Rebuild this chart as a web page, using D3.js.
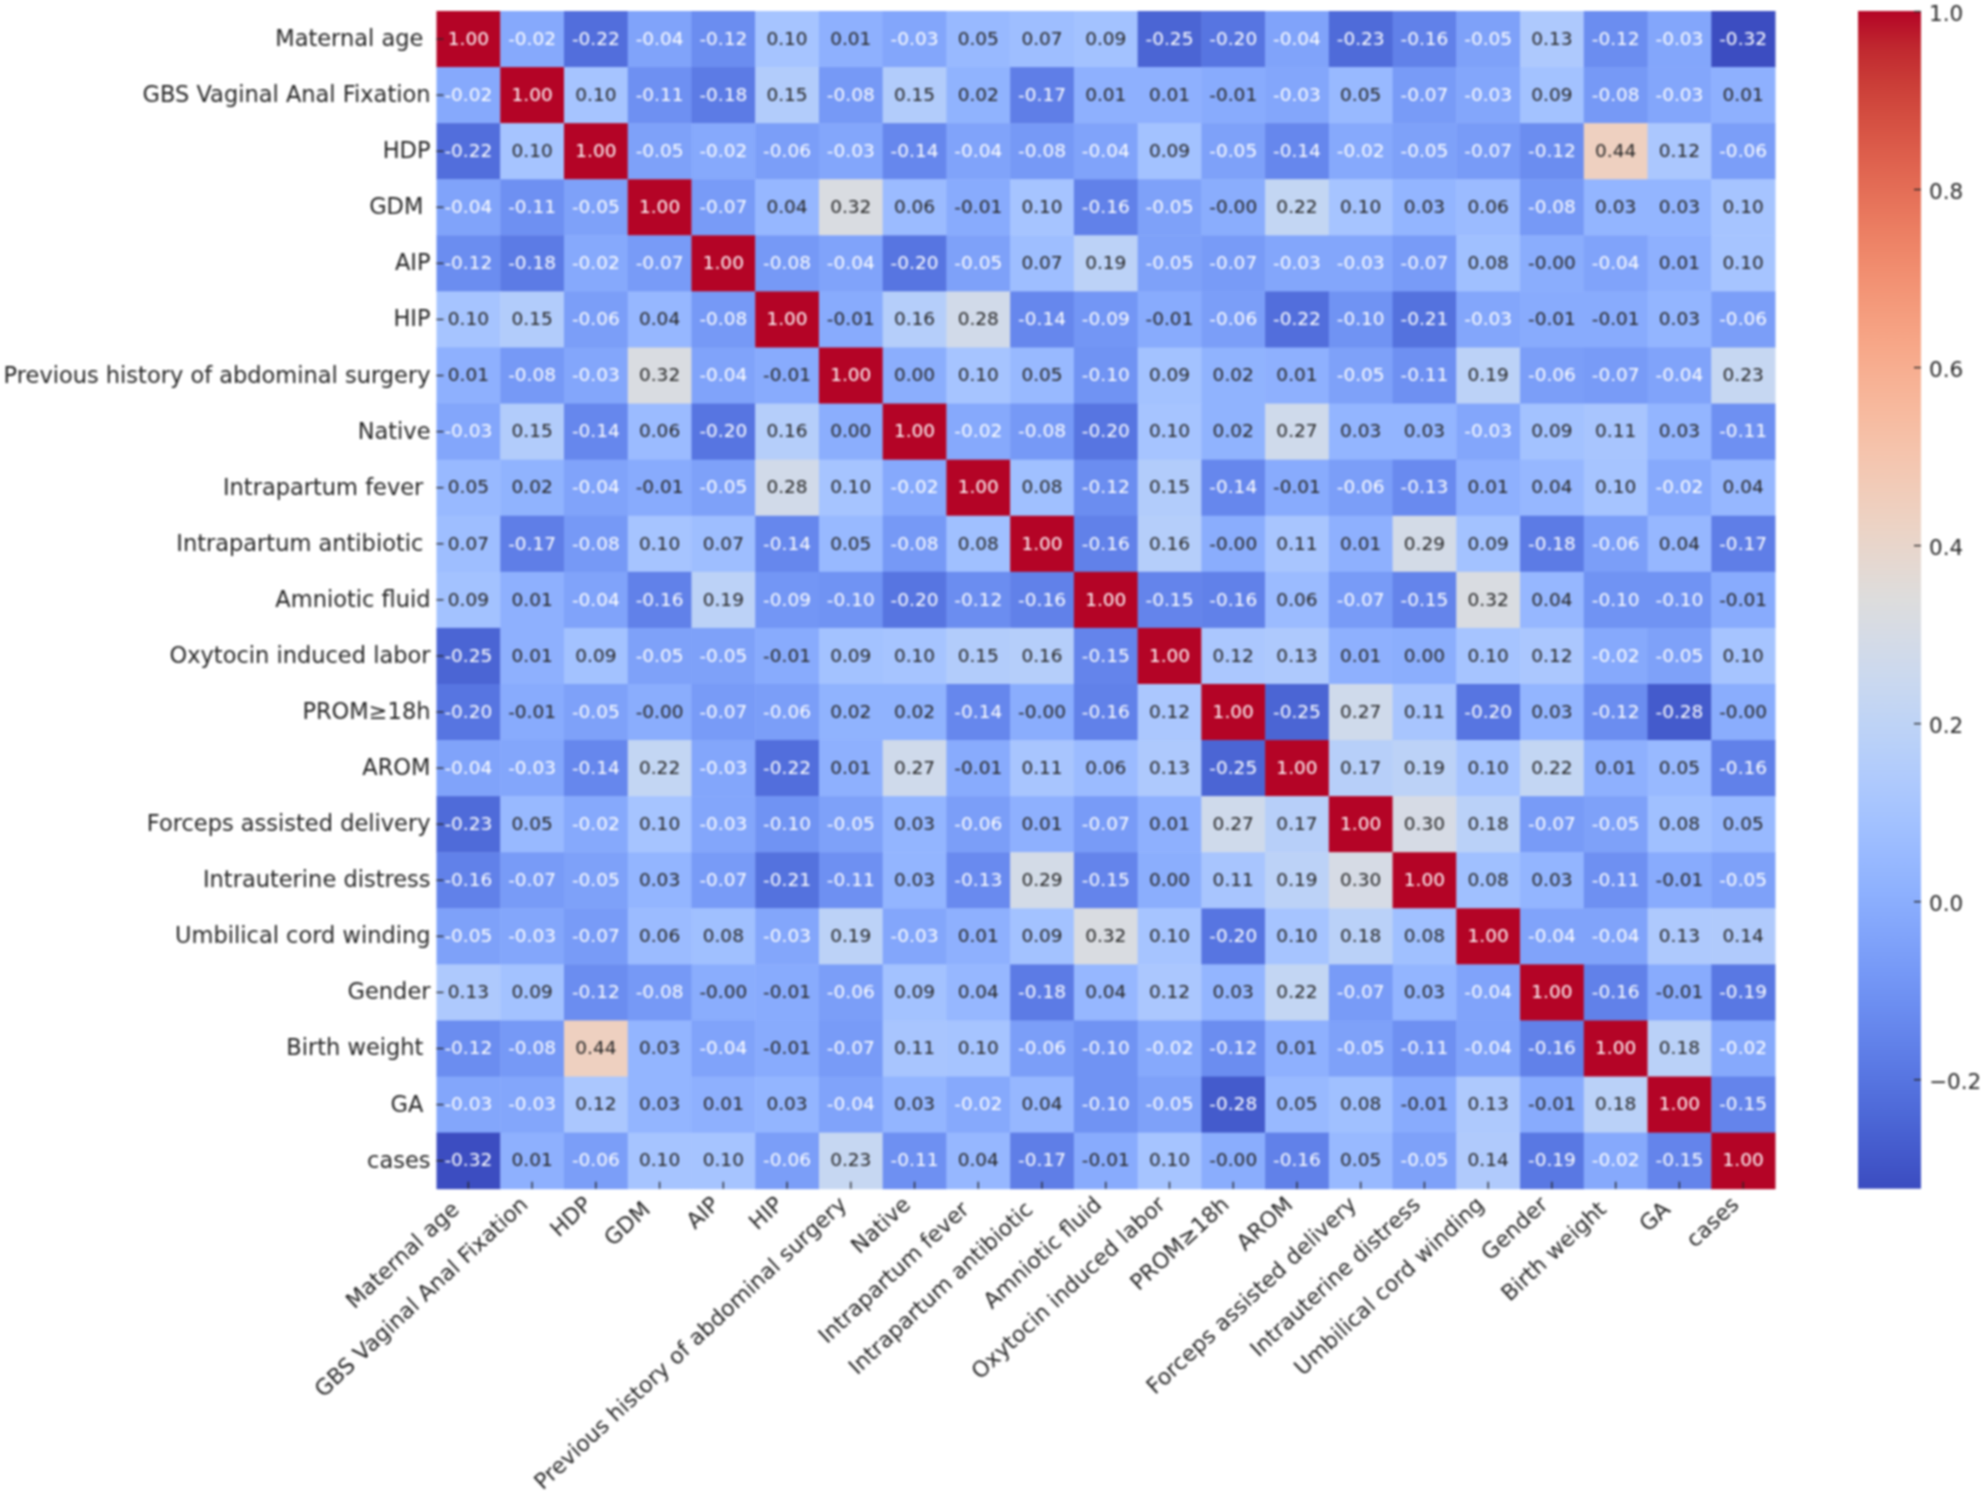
<!DOCTYPE html>
<html>
<head>
<meta charset="utf-8">
<script src="https://cdn.jsdelivr.net/npm/d3@7"></script>
<style>
  html, body { margin: 0; padding: 0; background: #fff; }
  svg { display: block; filter: blur(0.8px); }
  text { font-family: "DejaVu Sans", sans-serif; white-space: pre; }
</style>
</head>
<body>
<div id="chart"></div>
<script>
// row labels as printed (some of them carry a trailing space in the source)
var labels = ["Maternal age ", "GBS Vaginal Anal Fixation", "HDP", "GDM ", "AIP", "HIP",
  "Previous history of abdominal surgery", "Native", "Intrapartum fever ", "Intrapartum antibiotic ",
  "Amniotic fluid", "Oxytocin induced labor", "PROM≥18h", "AROM", "Forceps assisted delivery",
  "Intrauterine distress", "Umbilical cord winding", "Gender", "Birth weight ", "GA ", "cases"];

// correlation rows; -0.004 stands for the cells printed as -0.00
var rowMaternalAge = [1.00, -0.02, -0.22, -0.04, -0.12, 0.10, 0.01, -0.03, 0.05, 0.07, 0.09, -0.25, -0.20, -0.04, -0.23, -0.16, -0.05, 0.13, -0.12, -0.03, -0.32];
var rowGbs = [-0.02, 1.00, 0.10, -0.11, -0.18, 0.15, -0.08, 0.15, 0.02, -0.17, 0.01, 0.01, -0.01, -0.03, 0.05, -0.07, -0.03, 0.09, -0.08, -0.03, 0.01];
var rowHdp = [-0.22, 0.10, 1.00, -0.05, -0.02, -0.06, -0.03, -0.14, -0.04, -0.08, -0.04, 0.09, -0.05, -0.14, -0.02, -0.05, -0.07, -0.12, 0.44, 0.12, -0.06];
var rowGdm = [-0.04, -0.11, -0.05, 1.00, -0.07, 0.04, 0.32, 0.06, -0.01, 0.10, -0.16, -0.05, -0.004, 0.22, 0.10, 0.03, 0.06, -0.08, 0.03, 0.03, 0.10];
var rowAip = [-0.12, -0.18, -0.02, -0.07, 1.00, -0.08, -0.04, -0.20, -0.05, 0.07, 0.19, -0.05, -0.07, -0.03, -0.03, -0.07, 0.08, -0.004, -0.04, 0.01, 0.10];
var rowHip = [0.10, 0.15, -0.06, 0.04, -0.08, 1.00, -0.01, 0.16, 0.28, -0.14, -0.09, -0.01, -0.06, -0.22, -0.10, -0.21, -0.03, -0.01, -0.01, 0.03, -0.06];
var rowSurgery = [0.01, -0.08, -0.03, 0.32, -0.04, -0.01, 1.00, 0.00, 0.10, 0.05, -0.10, 0.09, 0.02, 0.01, -0.05, -0.11, 0.19, -0.06, -0.07, -0.04, 0.23];
var rowNative = [-0.03, 0.15, -0.14, 0.06, -0.20, 0.16, 0.00, 1.00, -0.02, -0.08, -0.20, 0.10, 0.02, 0.27, 0.03, 0.03, -0.03, 0.09, 0.11, 0.03, -0.11];
var rowFever = [0.05, 0.02, -0.04, -0.01, -0.05, 0.28, 0.10, -0.02, 1.00, 0.08, -0.12, 0.15, -0.14, -0.01, -0.06, -0.13, 0.01, 0.04, 0.10, -0.02, 0.04];
var rowAntibiotic = [0.07, -0.17, -0.08, 0.10, 0.07, -0.14, 0.05, -0.08, 0.08, 1.00, -0.16, 0.16, -0.004, 0.11, 0.01, 0.29, 0.09, -0.18, -0.06, 0.04, -0.17];
var rowAmniotic = [0.09, 0.01, -0.04, -0.16, 0.19, -0.09, -0.10, -0.20, -0.12, -0.16, 1.00, -0.15, -0.16, 0.06, -0.07, -0.15, 0.32, 0.04, -0.10, -0.10, -0.01];
var rowOxytocin = [-0.25, 0.01, 0.09, -0.05, -0.05, -0.01, 0.09, 0.10, 0.15, 0.16, -0.15, 1.00, 0.12, 0.13, 0.01, 0.00, 0.10, 0.12, -0.02, -0.05, 0.10];
var rowProm = [-0.20, -0.01, -0.05, -0.004, -0.07, -0.06, 0.02, 0.02, -0.14, -0.004, -0.16, 0.12, 1.00, -0.25, 0.27, 0.11, -0.20, 0.03, -0.12, -0.28, -0.004];
var rowArom = [-0.04, -0.03, -0.14, 0.22, -0.03, -0.22, 0.01, 0.27, -0.01, 0.11, 0.06, 0.13, -0.25, 1.00, 0.17, 0.19, 0.10, 0.22, 0.01, 0.05, -0.16];
var rowForceps = [-0.23, 0.05, -0.02, 0.10, -0.03, -0.10, -0.05, 0.03, -0.06, 0.01, -0.07, 0.01, 0.27, 0.17, 1.00, 0.30, 0.18, -0.07, -0.05, 0.08, 0.05];
var rowDistress = [-0.16, -0.07, -0.05, 0.03, -0.07, -0.21, -0.11, 0.03, -0.13, 0.29, -0.15, 0.00, 0.11, 0.19, 0.30, 1.00, 0.08, 0.03, -0.11, -0.01, -0.05];
var rowCord = [-0.05, -0.03, -0.07, 0.06, 0.08, -0.03, 0.19, -0.03, 0.01, 0.09, 0.32, 0.10, -0.20, 0.10, 0.18, 0.08, 1.00, -0.04, -0.04, 0.13, 0.14];
var rowGender = [0.13, 0.09, -0.12, -0.08, -0.004, -0.01, -0.06, 0.09, 0.04, -0.18, 0.04, 0.12, 0.03, 0.22, -0.07, 0.03, -0.04, 1.00, -0.16, -0.01, -0.19];
var rowBirth = [-0.12, -0.08, 0.44, 0.03, -0.04, -0.01, -0.07, 0.11, 0.10, -0.06, -0.10, -0.02, -0.12, 0.01, -0.05, -0.11, -0.04, -0.16, 1.00, 0.18, -0.02];
var rowGa = [-0.03, -0.03, 0.12, 0.03, 0.01, 0.03, -0.04, 0.03, -0.02, 0.04, -0.10, -0.05, -0.28, 0.05, 0.08, -0.01, 0.13, -0.01, 0.18, 1.00, -0.15];
var rowCases = [-0.32, 0.01, -0.06, 0.10, 0.10, -0.06, 0.23, -0.11, 0.04, -0.17, -0.01, 0.10, -0.004, -0.16, 0.05, -0.05, 0.14, -0.19, -0.02, -0.15, 1.00];

var matrix = [rowMaternalAge, rowGbs, rowHdp, rowGdm, rowAip, rowHip, rowSurgery, rowNative, rowFever,
  rowAntibiotic, rowAmniotic, rowOxytocin, rowProm, rowArom, rowForceps, rowDistress, rowCord,
  rowGender, rowBirth, rowGa, rowCases];

var colorbarTicks = [-0.2, 0, 0.2, 0.4, 0.6, 0.8, 1.0];
var vMin = -0.323;
var vMax = 1.0;

// coolwarm, evenly spaced stops
var coolwarm = ["#3b4cc0", "#445acc", "#4d68d7", "#5775e1", "#6282ea", "#6c8ef1", "#779af7", "#82a5fb",
  "#8db0fe", "#98b9ff", "#a3c2ff", "#aec9fd", "#b8d0f9", "#c2d5f4", "#ccd9ee", "#d5dbe6",
  "#dddddd", "#e5d8d1", "#ecd3c5", "#f1ccb9", "#f5c4ad", "#f7bba0", "#f7b194", "#f7a687",
  "#f49a7b", "#f18d6f", "#ec7f63", "#e57058", "#de604d", "#d55042", "#cb3e38", "#c0282f", "#b40426"];

// ****************************************************
// setup the svg area
var svgWidth = 1984;
var svgHeight = 1496;
var heatLeft = 436.5;
var heatRight = 1775;
var heatTop = 11;
var heatBottom = 1188.7;
var barLeft = 1858;
var barRight = 1921;

var svg = d3.select("#chart")
    .append("svg")
    .attr("width", svgWidth)
    .attr("height", svgHeight);

// ****************************************************
// scales
var xScale = d3.scaleBand().domain(d3.range(labels.length)).range([heatLeft, heatRight]);
var yScale = d3.scaleBand().domain(d3.range(labels.length)).range([heatTop, heatBottom]);

var colorScale = d3.scaleLinear()
    .domain(coolwarm.map(function(c, i) { return vMin + (vMax - vMin) * i / (coolwarm.length - 1); }))
    .range(coolwarm)
    .interpolate(d3.interpolateRgb)
    .clamp(true);

// seaborn picks the annotation colour from the cell luminance
function textColor(v) {
  var c = d3.rgb(colorScale(v));
  var lin = [c.r, c.g, c.b].map(function(u) {
    u = u / 255;
    return u <= 0.03928 ? u / 12.92 : Math.pow((u + 0.055) / 1.055, 2.4);
  });
  var lum = 0.2126 * lin[0] + 0.7152 * lin[1] + 0.0722 * lin[2];
  return lum > 0.408 ? "#262626" : "#ffffff";
}

// ****************************************************
// cells and annotations
var cells = [];
matrix.forEach(function(row, r) {
  row.forEach(function(v, c) { cells.push({ r: r, c: c, v: v }); });
});

svg.append("g").selectAll("rect")
    .data(cells)
    .enter()
    .append("rect")
    .attr("x", function(d) { return xScale(d.c); })
    .attr("y", function(d) { return yScale(d.r); })
    .attr("width", xScale.bandwidth() + 0.5)
    .attr("height", yScale.bandwidth() + 0.5)
    .attr("fill", function(d) { return colorScale(d.v); });

svg.append("g").selectAll("text")
    .data(cells)
    .enter()
    .append("text")
    .attr("x", function(d) { return xScale(d.c) + xScale.bandwidth() / 2; })
    .attr("y", function(d) { return yScale(d.r) + yScale.bandwidth() / 2 - 0.7; })
    .attr("text-anchor", "middle")
    .attr("dominant-baseline", "central")
    .attr("font-size", 18.5)
    .attr("fill", function(d) { return textColor(d.v); })
    .text(function(d) { return d.v.toFixed(2); });

// ****************************************************
// axes, ticks sit inside the heatmap like the source
var xAxis = d3.axisBottom(xScale).tickSize(-7).tickFormat(function(i) { return labels[i]; });
var yAxis = d3.axisLeft(yScale).tickSize(-7).tickPadding(6).tickFormat(function(i) { return labels[i]; });

var gx = svg.append("g")
    .attr("transform", "translate(0," + heatBottom + ")")
    .call(xAxis);
var gy = svg.append("g")
    .attr("transform", "translate(" + heatLeft + ",0)")
    .call(yAxis);

gy.selectAll("text").attr("font-size", 22.5).attr("fill", "#262626").attr("x", -6).attr("dy", "0.31em");

gx.selectAll("text")
    .attr("font-size", 22)
    .attr("fill", "#262626")
    .attr("text-anchor", "end")
    .attr("dominant-baseline", "central")
    .attr("dy", 0)
    .attr("x", 0)
    .attr("y", 0)
    .attr("transform", "translate(-8,12) rotate(-43)");

// ****************************************************
// colorbar
var defs = svg.append("defs");
var gradient = defs.append("linearGradient")
    .attr("id", "barGradient")
    .attr("x1", 0).attr("x2", 0).attr("y1", 1).attr("y2", 0);

gradient.selectAll("stop")
    .data(coolwarm)
    .enter()
    .append("stop")
    .attr("offset", function(c, i) { return i / (coolwarm.length - 1); })
    .attr("stop-color", function(c) { return c; });

svg.append("rect")
    .attr("x", barLeft)
    .attr("y", heatTop)
    .attr("width", barRight - barLeft)
    .attr("height", heatBottom - heatTop)
    .attr("fill", "url(#barGradient)");

var barScale = d3.scaleLinear().domain([vMin, vMax]).range([heatBottom, heatTop]);
var barAxis = d3.axisRight(barScale)
    .tickValues(colorbarTicks)
    .tickSize(-7)
    .tickPadding(8)
    .tickFormat(function(v) { return d3.format(".1f")(v).replace("-", "\u2212"); });

var gb = svg.append("g")
    .attr("transform", "translate(" + barRight + ",0)")
    .call(barAxis);

gb.selectAll("text").attr("font-size", 21.5).attr("fill", "#262626").attr("dy", "0.42em");

// common axis styling
svg.selectAll(".domain").remove();
svg.selectAll(".tick line").attr("stroke", "#262626").attr("stroke-width", 1.3);
</script>
</body>
</html>
